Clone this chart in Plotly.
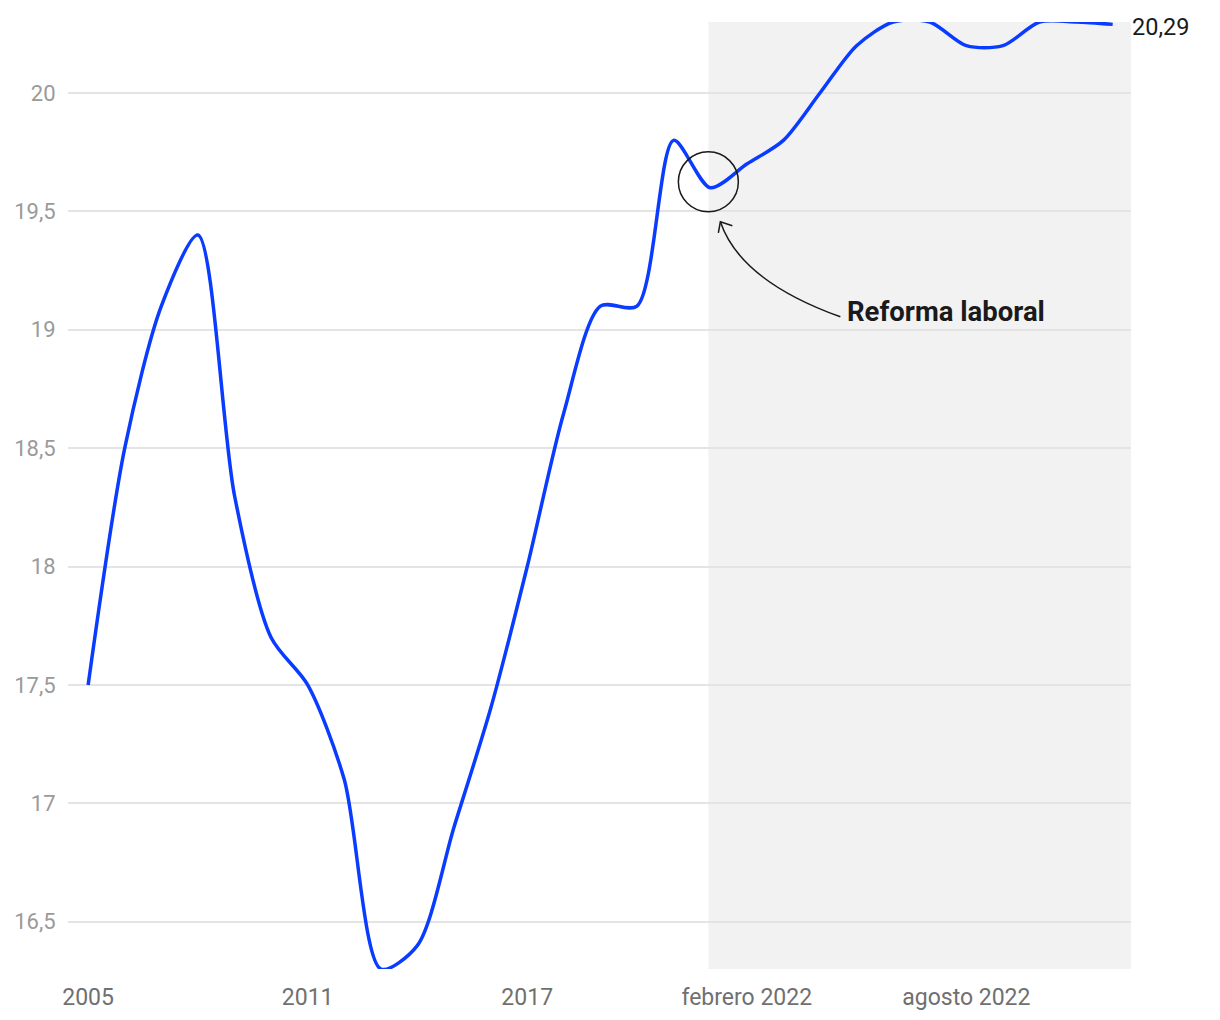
import plotly.graph_objects as go

# ---- data ----
categories = [str(y) for y in range(2005, 2022)] + [
    "enero 2022", "febrero 2022", "marzo 2022", "abril 2022", "mayo 2022",
    "junio 2022", "julio 2022", "agosto 2022", "septiembre 2022",
    "octubre 2022", "noviembre 2022", "diciembre 2022",
]
values = [
    17.5, 18.5, 19.1, 19.4, 18.3, 17.7, 17.5, 17.1, 16.3, 16.4,
    16.9, 17.4, 18.0, 18.65, 19.1, 19.1, 19.8,
    19.6, 19.7, 19.8, 20.0, 20.2, 20.3, 20.3, 20.2, 20.2, 20.3, 20.3, 20.29,
]
x_tick_labels = ["2005", "2011", "2017", "febrero 2022", "agosto 2022"]
y_tick_values = [16.5, 17, 17.5, 18, 18.5, 19, 19.5, 20]
y_tick_labels = ["16,5", "17", "17,5", "18", "18,5", "19", "19,5", "20"]
last_label = "20,29"
note_text = "Reforma laboral"

# ---- figure ----
FONT = "Roboto"
BLUE = "#0a3cff"

fig = go.Figure()
fig.add_trace(go.Scatter(
    x=categories, y=values, mode="lines",
    line=dict(color=BLUE, width=3.5, shape="spline", smoothing=0.8),
    hoverinfo="skip", showlegend=False,
))

shade_start = categories.index("enero 2022") - 0.05
n = len(categories)

shapes = [
    dict(type="rect", xref="x", yref="paper", x0=shade_start, x1=n - 0.5,
         y0=0, y1=1, fillcolor="#f2f2f2", line=dict(width=0), layer="below"),
    # circle around the reform point (pixel-sized)
    dict(type="circle", xref="x", yref="y", xsizemode="pixel", ysizemode="pixel",
         xanchor=shade_start, yanchor=19.625, x0=-30, x1=30, y0=-30, y1=30,
         line=dict(color="#1a1a1a", width=1.5), layer="above"),
    # curved arrow
    dict(type="path", xref="x", yref="y", xsizemode="pixel", ysizemode="pixel",
         xanchor=shade_start, yanchor=19.625,
         path="M 132,-135 Q 32,-99 12,-40",
         line=dict(color="#1a1a1a", width=1.5), layer="above"),
    dict(type="path", xref="x", yref="y", xsizemode="pixel", ysizemode="pixel",
         xanchor=shade_start, yanchor=19.625,
         path="M 10,-51 L 12,-40 L 24,-44",
         line=dict(color="#1a1a1a", width=1.5), layer="above"),
]

annotations = [
    dict(x=n - 1, y=values[-1], xref="x", yref="y", text=last_label,
         showarrow=False, xanchor="left", yanchor="middle", xshift=17, yshift=-3,
         font=dict(family=FONT, size=23.5, color="#1a1a1a")),
    dict(x=shade_start, y=19.625, xref="x", yref="y", text="<b>" + note_text + "</b>",
         showarrow=False, xanchor="left", yanchor="middle", xshift=137, yshift=-130,
         font=dict(family=FONT, size=27.5, color="#1a1a1a")),
]

fig.update_layout(
    width=1220, height=1020,
    margin=dict(l=68, r=89, t=22, b=51, pad=0),
    paper_bgcolor="white", plot_bgcolor="white",
    font=dict(family=FONT),
    shapes=shapes, annotations=annotations,
    showlegend=False,
)
fig.update_xaxes(
    type="category", range=[-0.55, n - 0.5], automargin=False,
    tickvals=x_tick_labels, ticktext=x_tick_labels,
    showgrid=False, zeroline=False, showline=False,
    ticks="outside", ticklen=7, tickcolor="rgba(0,0,0,0)",
    tickfont=dict(family=FONT, size=23, color="#707070"),
)
fig.update_yaxes(
    range=[16.3, 20.3], tickvals=y_tick_values, ticktext=y_tick_labels,
    automargin=False,
    showgrid=True, gridcolor="#e4e4e4", gridwidth=1.5,
    zeroline=False, showline=False,
    ticks="outside", ticklen=7, tickcolor="rgba(0,0,0,0)",
    tickfont=dict(family=FONT, size=22, color="#9a9a9a"),
)

fig.write_html("out.html", config={"displayModeBar": False},
               post_script="document.body.style.margin='0px';")
